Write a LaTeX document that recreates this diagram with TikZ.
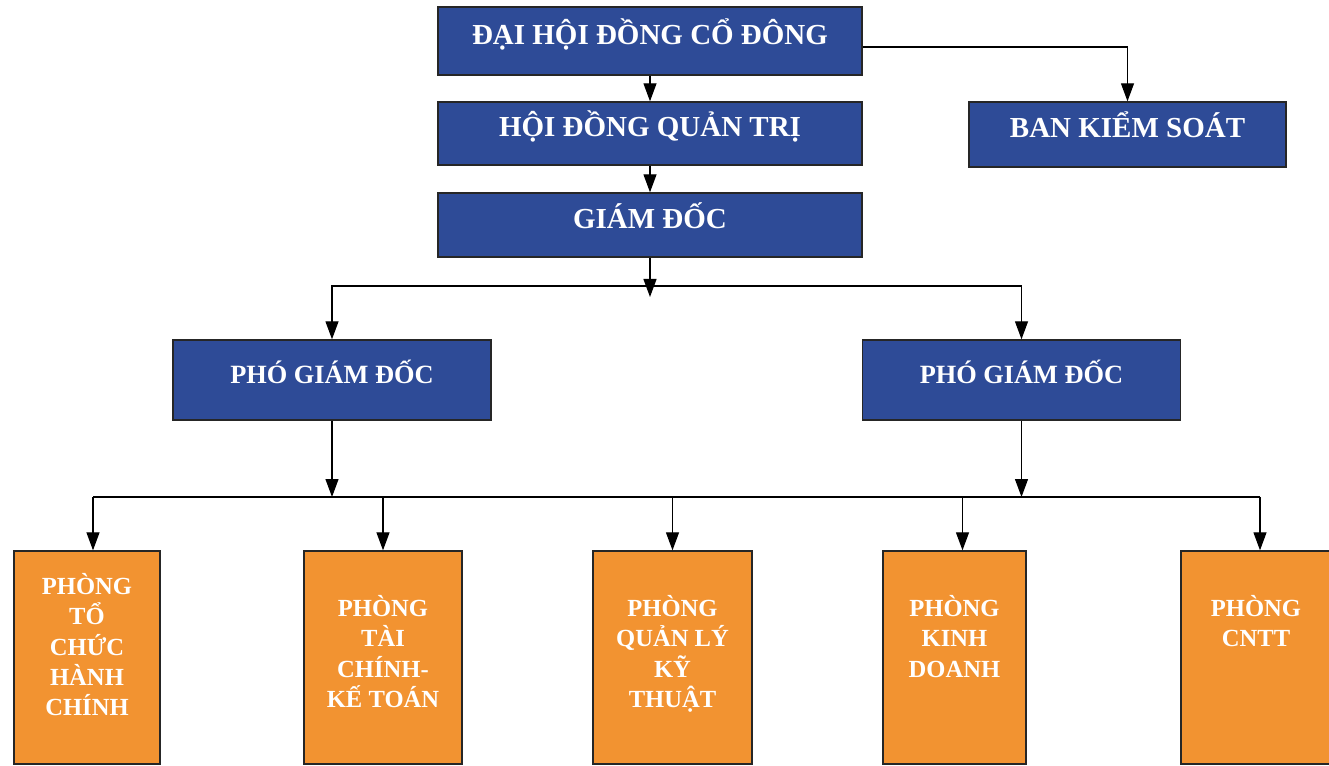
\documentclass[tikz,border=0pt]{standalone}
\usepackage{fontspec}
\setmainfont{Liberation Serif}
\usepackage{xcolor}
\usetikzlibrary{arrows.meta,positioning,calc}
\definecolor{orgBlue}{HTML}{2E4B97}
\definecolor{orgOrange}{HTML}{F29331}
\tikzset{
  bluebox/.style={draw=black!85, line width=0.8pt, fill=orgBlue, text=white,
    font=\bfseries\fontsize{16.5}{19}\selectfont, inner sep=0pt,
    text height=0.66em, text depth=0.3em},
  orbox/.style={draw=black!85, line width=0.8pt, fill=orgOrange,
    minimum height=4.26cm, inner sep=0pt},
  ortext/.style={text=white, font=\bfseries\fontsize{14}{17.2}\selectfont,
    align=center, anchor=north, inner sep=0pt},
  link/.style={line width=0.7pt, -{Triangle[length=0.36cm,width=0.26cm]}},
  busline/.style={line width=0.7pt},
}
\begin{document}
\begin{tikzpicture}[x=0.02cm,y=-0.02cm]
\useasboundingbox (0,0) rectangle (1329,766);
% top of the chart
\node[bluebox, minimum width=8.48cm, minimum height=1.36cm] (dh) at (650,41) {ĐẠI HỘI ĐỒNG CỔ ĐÔNG};
\node[bluebox, minimum width=8.48cm, minimum height=1.26cm] (hd) at (650,133.5) {HỘI ĐỒNG QUẢN TRỊ};
\node[bluebox, minimum width=8.48cm, minimum height=1.28cm] (gd) at (650,225) {GIÁM ĐỐC};
\node[bluebox, minimum width=6.34cm, minimum height=1.3cm] (bks) at (1127.5,134.5) {BAN KIỂM SOÁT};
\node[bluebox, font=\bfseries\fontsize{15}{18}\selectfont, minimum width=6.36cm, minimum height=1.6cm] (pg1) at (332,380) {PHÓ GIÁM ĐỐC};
\node[bluebox, font=\bfseries\fontsize{15}{18}\selectfont, minimum width=6.36cm, minimum height=1.6cm] (pg2) at (1021.5,380) {PHÓ GIÁM ĐỐC};
% departments
\node[orbox, minimum width=2.92cm] (ph1) at (87,657.5) {};
\node[orbox, minimum width=3.16cm] (ph2) at (383,657.5) {};
\node[orbox, minimum width=3.18cm] (ph3) at (672.5,657.5) {};
\node[orbox, minimum width=2.86cm] (ph4) at (954.5,657.5) {};
\node[orbox, minimum width=3.0cm] (ph5) at (1256,657.5) {};
\node[ortext] (t1) at ([yshift=-0.46cm]ph1.north) {PHÒNG\\TỔ\\CHỨC\\HÀNH\\CHÍNH};
\node[ortext] (t2) at ([yshift=-0.9cm]ph2.north) {PHÒNG\\TÀI\\CHÍNH-\\KẾ TOÁN};
\node[ortext] (t3) at ([yshift=-0.9cm]ph3.north) {PHÒNG\\QUẢN LÝ\\KỸ\\THUẬT};
\node[ortext] (t4) at ([yshift=-0.9cm]ph4.north) {PHÒNG\\KINH\\DOANH};
\node[ortext] (t5) at ([yshift=-0.9cm]ph5.north) {PHÒNG\\CNTT};
% connectors
\draw[link] (dh) -- (hd);
\draw[link] (hd) -- (gd);
\draw[link] ([yshift=-0.12cm]dh.east) -| (bks.north);
\coordinate (split) at (650,286);
\draw[link] (gd.south) -- ([yshift=-0.22cm]split);
\draw[busline] (pg1.north |- split) -- (pg2.north |- split);
\draw[link] (split) -| (pg1.north);
\draw[link] (split) -| (pg2.north);
\coordinate (busL) at (93,497);
\coordinate (busR) at (1260,497);
\draw[busline] (busL) -- (busR);
\draw[link] (pg1.south) -- (pg1.south |- busL);
\draw[link] (pg2.south) -- (pg2.south |- busL);
\foreach \n/\dx in {ph1/0.12,ph2/0,ph3/0,ph4/0.16,ph5/0.08}
  \draw[link] ([xshift=\dx cm]\n.north |- busL) -- ([xshift=\dx cm]\n.north);
\end{tikzpicture}
\end{document}
